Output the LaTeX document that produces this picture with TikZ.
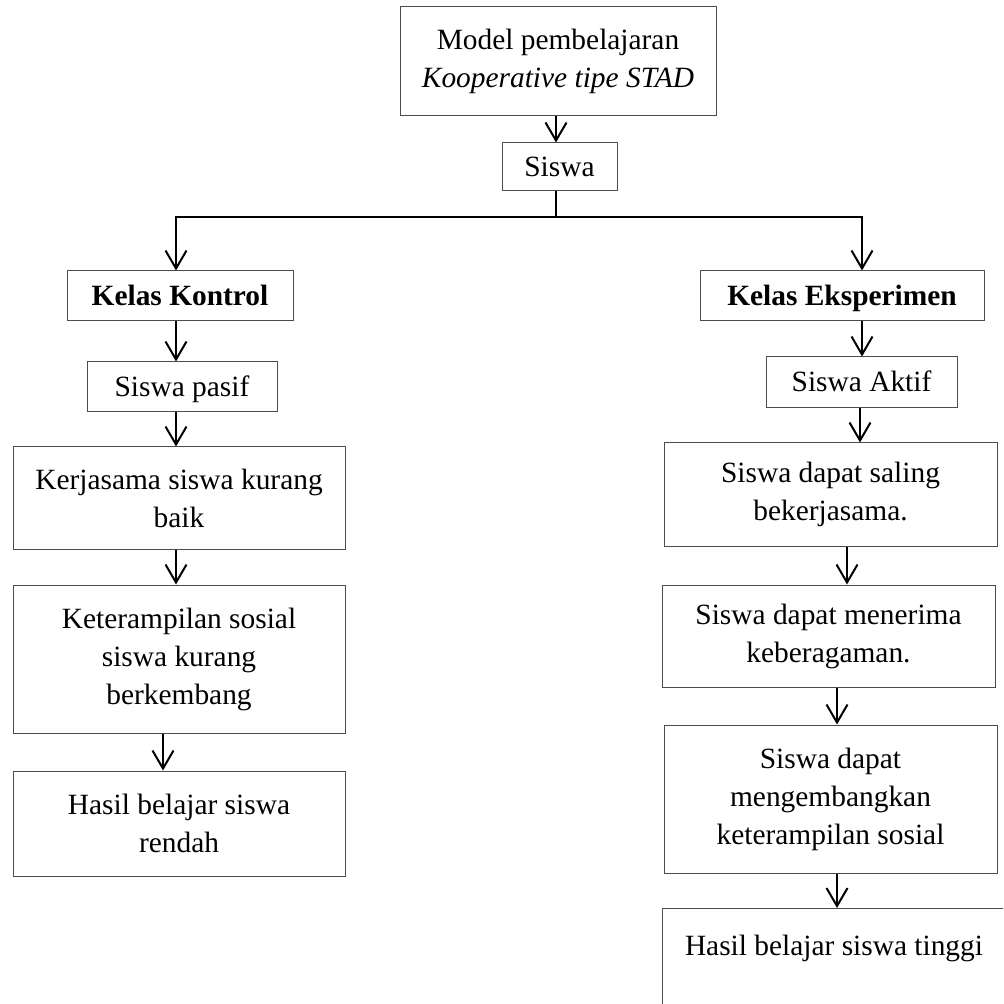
\documentclass[tikz,border=0pt]{standalone}
\usepackage{fontspec}
\setmainfont{Liberation Serif}
\usepackage{tikz}
\usetikzlibrary{arrows.meta}

\begin{document}
\begin{tikzpicture}[
        x=0.5pt, y=-0.5pt,
        every node/.style={font=\fontsize{14.7}{19}\selectfont},
        box/.style={draw=black!70, line width=0.5pt, rectangle, align=center, inner sep=0pt},
        oneline/.style={text height=10pt, text depth=0.5pt},
        boxsize/.style 2 args={minimum width=#1*0.5pt, minimum height=#2*0.5pt},
        link/.style={draw, line width=1pt},
        arrow/.style={link, -{Straight Barb[length=9pt, width=10.5pt]}}
    ]
    \useasboundingbox (0,0) rectangle (1003,1004);
    \clip (0,0) rectangle (1003,1004);

    % Top
    \node[box, boxsize={316}{109}] (model) at (558,61.5) {Model pembelajaran\\ \textit{Kooperative tipe STAD}};
    \node[box, oneline, boxsize={115}{48}] (siswa) at (559.5,167) {Siswa};

    % Kelas kontrol
    \node[box, oneline, boxsize={226}{50}] (kontrol) at (180,296) {\textbf{Kelas Kontrol}};
    \node[box, oneline, boxsize={190}{50}] (pasif) at (182,387) {Siswa pasif};
    \node[box, boxsize={332}{102}] (kerjasama) at (179,498) {Kerjasama siswa kurang\\ baik};
    \node[box, boxsize={332}{148}] (sosial) at (179,659) {Keterampilan sosial\\ siswa kurang\\ berkembang};
    \node[box, boxsize={332}{105}] (rendah) at (179,823.5) {Hasil belajar siswa\\ rendah};

    % Kelas eksperimen
    \node[box, oneline, boxsize={284}{50}] (eksperimen) at (842,296) {\textbf{Kelas Eksperimen}};
    \node[box, oneline, boxsize={191}{51}] (aktif) at (861.5,382.5) {Siswa Aktif};
    \node[box, boxsize={333}{103}] (saling) at (830.5,494.5) {Siswa dapat saling\\ bekerjasama.};
    \node[box, boxsize={333}{102}] (menerima) at (828.5,636) {Siswa dapat menerima\\ keberagaman.};
    \node[box, boxsize={333}{148}] (kembang) at (830.5,799) {Siswa dapat\\ mengembangkan\\ keterampilan sosial};
    \node[box, minimum width=343*0.5pt, text height=23.5pt, text depth=42.5pt, anchor=north west] (tinggi) at (662,908) {Hasil belajar siswa tinggi};

    % Connectors
    \coordinate (split) at (556,217);
    \draw[arrow] (model.south -| split) -- (siswa.north -| split);
    \draw[link] (siswa.south -| split) -- (split);
    \draw[arrow] (split) -| (kontrol.north -| 176,0);
    \draw[arrow] (split) -| (eksperimen.north -| 862,0);

    \draw[arrow] (kontrol.south -| 176,0) -- (pasif.north -| 176,0);
    \draw[arrow] (pasif.south -| 176,0) -- (kerjasama.north -| 176,0);
    \draw[arrow] (kerjasama.south -| 176,0) -- (sosial.north -| 176,0);
    \draw[arrow] (sosial.south -| 163,0) -- (rendah.north -| 163,0);

    \draw[arrow] (eksperimen.south -| 862,0) -- (aktif.north -| 862,0);
    \draw[arrow] (aktif.south -| 860,0) -- (saling.north -| 860,0);
    \draw[arrow] (saling.south -| 847,0) -- (menerima.north -| 847,0);
    \draw[arrow] (menerima.south -| 837,0) -- (kembang.north -| 837,0);
    \draw[arrow] (kembang.south -| 837,0) -- (tinggi.north -| 837,0);

\end{tikzpicture}
\end{document}
